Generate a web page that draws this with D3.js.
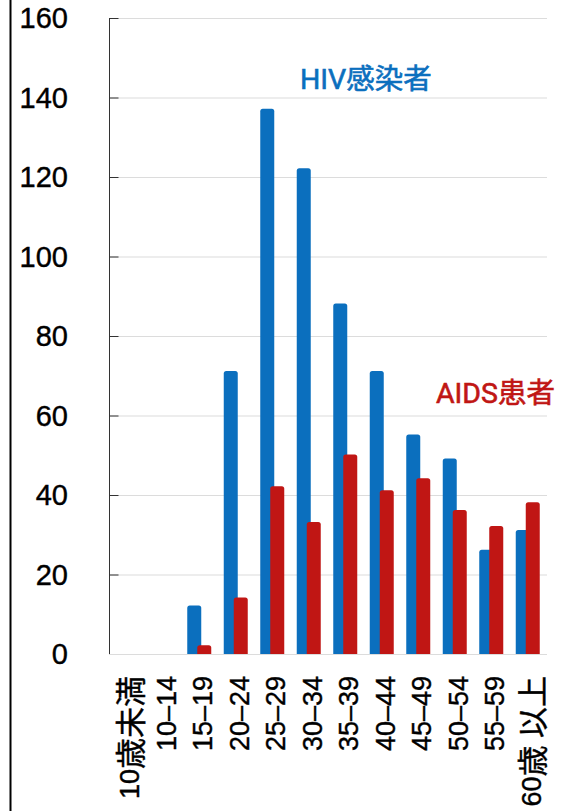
<!DOCTYPE html>
<html>
<head>
<meta charset="utf-8">
<script src="https://cdn.jsdelivr.net/npm/d3@7"></script>
<style>
  body { margin: 0; background: #fff; }
  svg { display: block; }
</style>
</head>
<body>
<div id="chart"></div>
<script>
// Data
const ageGroups = ["10歳未満", "10–14", "15–19", "20–24", "25–29", "30–34", "35–39", "40–44", "45–49", "50–54", "55–59", "60歳 以上"];
const hivValues = [0, 0, 12, 71, 137, 122, 88, 71, 55, 49, 26, 31];
const aidsValues = [0, 0, 2, 14, 42, 33, 50, 41, 44, 36, 32, 38];
const yTicks = [0, 20, 40, 60, 80, 100, 120, 140, 160];

const width = 562, height = 811;
const plot = { left: 109, right: 547, top: 18, bottom: 654 };
const barW = 14;
const blue = "#0b6fbe", red = "#c01614";

let svg = d3.select("#chart").append("svg")
    .attr("width", width)
    .attr("height", height)

// left border line
svg.append("line")
    .attr("x1", 10.5).attr("x2", 10.5)
    .attr("y1", 0).attr("y2", height)
    .attr("stroke", "#000").attr("stroke-width", 2)

let x = d3.scaleBand()
    .domain(ageGroups)
    .range([plot.left, plot.right])

let y = d3.scaleLinear()
    .domain([0, 160])
    .range([plot.bottom, plot.top])

// gridlines
svg.append("g")
    .selectAll("line")
    .data(yTicks)
    .enter().append("line")
    .attr("x1", plot.left).attr("x2", plot.right)
    .attr("y1", d => y(d) + 0.5).attr("y2", d => y(d) + 0.5)
    .attr("stroke", "#dcdcdc").attr("stroke-width", 1.2)

// y axis (ticks pointing inside)
let yAxis = svg.append("g")
    .attr("transform", `translate(${plot.left + 0.5},0)`)
    .call(d3.axisRight(y).tickValues(yTicks.filter(d => d > 0)).tickSize(9).tickFormat(""))
yAxis.select(".domain").attr("stroke", "#333").attr("d", `M0,${plot.top}V${plot.bottom}`)
yAxis.selectAll(".tick line").attr("stroke", "#333")

// y tick labels
svg.append("g")
    .selectAll("text")
    .data(yTicks)
    .enter().append("text")
    .attr("x", 68)
    .attr("y", d => y(d))
    .attr("dy", "0.36em")
    .attr("text-anchor", "end")
    .attr("font-family", "'Liberation Sans', Arial, sans-serif")
    .attr("font-size", "29px")
    .attr("fill", "#000")
    .attr("stroke", "#000").attr("stroke-width", 0.4)
    .text(d => d)

// bar with rounded top corners
function barPath(x0, w, v) {
    const top = y(v) - 0.8, base = y(0), r = Math.min(2.5, (base - top) / 2);
    return `M${x0},${base}V${top + r}Q${x0},${top} ${x0 + r},${top}H${x0 + w - r}Q${x0 + w},${top} ${x0 + w},${top + r}V${base}Z`
}

const center = d => x(d) + x.bandwidth() / 2 - 1;

svg.append("g")
    .selectAll("path")
    .data(ageGroups.map((g, i) => ({ g, v: hivValues[i] })).filter(d => d.v > 0))
    .enter().append("path")
    .attr("d", d => barPath(center(d.g) - 12, barW, d.v))
    .attr("fill", blue)

svg.append("g")
    .selectAll("path")
    .data(ageGroups.map((g, i) => ({ g, v: aidsValues[i] })).filter(d => d.v > 0))
    .enter().append("path")
    .attr("d", d => barPath(center(d.g) - 2, barW, d.v))
    .attr("fill", red)

// x labels, rotated; kanji runs are set a bit larger like in the original
const cjk = /[\u3000-\u9fff]/;
const labelSize = 27;
let xLabels = svg.append("g")
    .selectAll("text")
    .data(ageGroups)
    .enter().append("text")
    .attr("transform", d => `translate(${x(d) + x.bandwidth() / 2 + 2.5},676) rotate(-90)`)
    .attr("text-anchor", "end")
    .attr("font-family", "'Liberation Sans', 'Noto Sans CJK JP', sans-serif")
    .attr("font-size", labelSize + "px")
    .attr("fill", "#000")
    .attr("stroke", "#000").attr("stroke-width", 0.4)

xLabels.each(function(d) {
    let el = d3.select(this)
    let runs = d.match(/[\u3000-\u9fff]+|[^\u3000-\u9fff]+/g)
    let shift = 0
    runs.forEach(r => {
        let isCjk = cjk.test(r)
        let want = labelSize * 0.36 + (isCjk ? 3 : 0)
        el.append("tspan")
            .attr("dy", want - shift)
            .attr("font-size", isCjk ? "31px" : null)
            .attr("font-family", isCjk ? "'Noto Sans CJK JP', sans-serif" : null)
            .text(r)
        shift = want
    })
})

// series labels
svg.append("text")
    .attr("x", 300).attr("y", 89)
    .attr("font-family", "Roboto, 'Noto Sans CJK JP', sans-serif")
    .attr("font-size", "28.5px")
    .attr("fill", blue)
    .attr("stroke", blue).attr("stroke-width", 0.6)
    .text("HIV感染者")

svg.append("text")
    .attr("x", 436).attr("y", 403)
    .attr("font-family", "Roboto, 'Noto Sans CJK JP', sans-serif")
    .attr("font-size", "28.5px")
    .attr("fill", red)
    .attr("stroke", red).attr("stroke-width", 0.6)
    .text("AIDS患者")
</script>
</body>
</html>
